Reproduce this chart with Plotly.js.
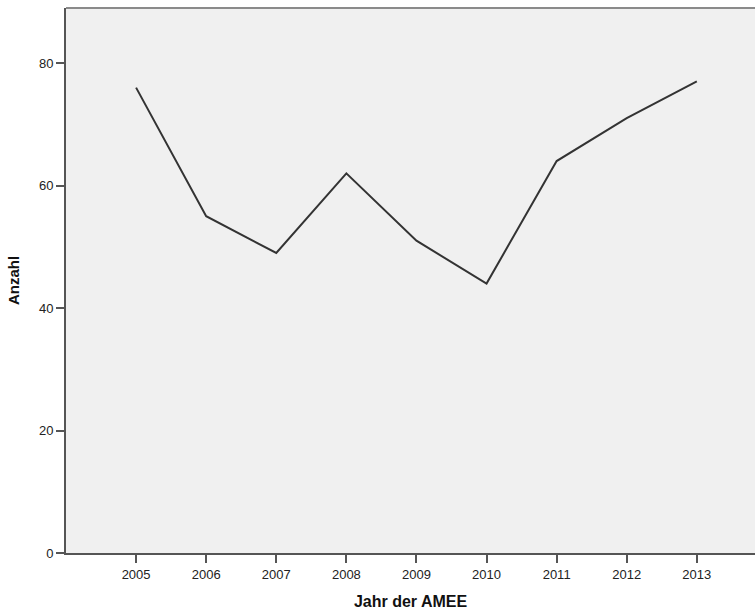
<!DOCTYPE html>
<html>
<head>
<meta charset="utf-8">
<script src="https://cdn.plot.ly/plotly-3.0.1.min.js"></script>
<style>html,body{margin:0;padding:0;background:#fff;}#chart{width:755px;height:612px;}</style>
</head>
<body>
<div id="chart"></div>
<script>
const years = [2005, 2006, 2007, 2008, 2009, 2010, 2011, 2012, 2013];
const counts = [76, 55, 49, 62, 51, 44, 64, 71, 77];
const yTicks = [0, 20, 40, 60, 80];
const xTitle = "Jahr der AMEE";
const yTitle = "Anzahl";

const trace = {
  x: years, y: counts, type: 'scatter', mode: 'lines',
  line: {color: '#333333', width: 2},
  hoverinfo: 'skip'
};

const layout = {
  width: 755, height: 612,
  margin: {l: 66, r: 0, t: 8, b: 59},
  paper_bgcolor: '#ffffff',
  plot_bgcolor: '#f0f0f0',
  showlegend: false,
  font: {family: 'Liberation Sans, Arial, sans-serif', color: '#222222'},
  xaxis: {
    range: [2004, 2013.83],
    tickvals: years, ticktext: years.map(String),
    showgrid: false, zeroline: false,
    showline: true, linecolor: '#555555', linewidth: 2,
    ticks: 'outside', ticklen: 8, tickwidth: 2, tickcolor: '#555555',
    tickfont: {size: 13, color: '#222222'},
    title: {text: '<b>' + xTitle + '</b>', font: {size: 16, color: '#111111'}, standoff: 15}
  },
  yaxis: {
    range: [0, 89],
    tickvals: yTicks, ticktext: yTicks.map(String),
    showgrid: false, zeroline: false,
    showline: true, linecolor: '#555555', linewidth: 2,
    ticks: 'outside', ticklen: 8, tickwidth: 2, tickcolor: '#555555',
    tickfont: {size: 13, color: '#222222'},
    title: {text: '<b>' + yTitle + '</b>', font: {size: 15, color: '#111111'}, standoff: 16}
  },
  shapes: [{
    type: 'line', xref: 'paper', yref: 'paper', x0: 0, x1: 1, y0: 1, y1: 1,
    line: {color: '#8a8a8a', width: 2}
  }]
};

Plotly.newPlot('chart', [trace], layout, {displayModeBar: false, staticPlot: true});
</script>
</body>
</html>
